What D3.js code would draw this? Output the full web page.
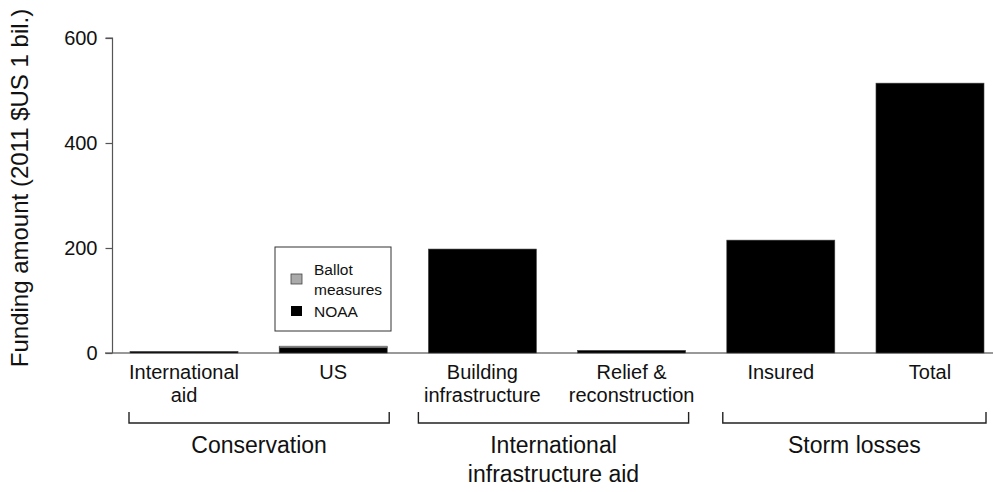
<!DOCTYPE html>
<html>
<head>
<meta charset="utf-8">
<script src="https://cdn.jsdelivr.net/npm/d3@7"></script>
<style>
  body { margin: 0; background: #fff; }
  svg { font-family: "Liberation Sans", Arial, Helvetica, sans-serif; }
</style>
</head>
<body>
<div id="chart-area"></div>
<script>
const WIDTH = 993
const HEIGHT = 492

// data
const categories = ["International aid", "US", "Building infrastructure", "Relief & reconstruction", "Insured", "Total"]
const categoryLines = [["International", "aid"], ["US"], ["Building", "infrastructure"], ["Relief &", "reconstruction"], ["Insured"], ["Total"]]
const noaa = [3, 10, 198, 5, 215, 514]
const ballot = [0, 3, 0, 0, 0, 0]
const groups = ["Conservation", "International infrastructure aid", "Storm losses"]
const groupLines = [["Conservation"], ["International", "infrastructure aid"], ["Storm losses"]]
const groupMembers = [["International aid", "US"], ["Building infrastructure", "Relief & reconstruction"], ["Insured", "Total"]]
const yTicks = [0, 200, 400, 600]
const legendItems = ["Ballot measures", "NOAA"]

const svg = d3.select("#chart-area").append("svg")
  .attr("width", WIDTH)
  .attr("height", HEIGHT)

const x = d3.scaleBand()
  .domain(categories)
  .range([130, 984])
  .paddingInner(0.276)
  .paddingOuter(0)

const y = d3.scaleLinear()
  .domain([0, 600])
  .range([353, 38])

const data = categories.map((c, i) => ({ cat: c, noaa: noaa[i], ballot: ballot[i] }))
const stacked = d3.stack().keys(["noaa", "ballot"])(data)
const colors = { noaa: "#000", ballot: "#aaa" }

// baseline
svg.append("line")
  .attr("x1", 105).attr("x2", WIDTH)
  .attr("y1", y(0)).attr("y2", y(0))
  .attr("stroke", "#777").attr("stroke-width", 1.5)

// bars
svg.selectAll("g.layer")
  .data(stacked)
  .enter().append("g")
  .attr("class", "layer")
  .attr("fill", d => colors[d.key])
  .selectAll("rect")
  .data(d => d.filter(p => p[1] - p[0] > 0))
  .enter().append("rect")
    .attr("x", d => x(d.data.cat))
    .attr("width", x.bandwidth())
    .attr("y", d => y(d[1]))
    .attr("height", d => y(d[0]) - y(d[1]))
    .attr("stroke", "#444")
    .attr("stroke-width", 0.6)

// y axis
const yAxis = svg.append("g")
  .attr("transform", "translate(112.5,0)")
  .call(d3.axisLeft(y).tickValues(yTicks).tickSize(7).tickPadding(8))
yAxis.select(".domain").attr("stroke", "#555").attr("stroke-width", 1.2).attr("d", `M-7,${y(600)}H0V${y(0)}`)
yAxis.selectAll(".tick line").attr("stroke", "#555").attr("stroke-width", 1.2)
yAxis.selectAll(".tick text").attr("font-size", "20px").attr("fill", "#111").attr("font-family", null)

// y label
svg.append("text")
  .attr("transform", "rotate(-90)")
  .attr("x", -188)
  .attr("y", 28)
  .attr("text-anchor", "middle")
  .attr("font-size", "24px")
  .attr("fill", "#111")
  .text("Funding amount (2011 $US 1 bil.)")

// category labels
categories.forEach((c, i) => {
  const t = svg.append("text")
    .attr("x", x(c) + x.bandwidth() / 2)
    .attr("y", 379)
    .attr("text-anchor", "middle")
    .attr("font-size", "20px")
    .attr("fill", "#111")
  categoryLines[i].forEach((line, j) => {
    t.append("tspan").attr("x", x(c) + x.bandwidth() / 2).attr("dy", j === 0 ? 0 : 23).text(line)
  })
})

// group brackets
const bracketPad = [[-1, 2], [-10, 3], [-4, 2]]
groups.forEach((g, i) => {
  const mem = groupMembers[i]
  const x0 = x(mem[0]) + bracketPad[i][0]
  const x1 = x(mem[mem.length - 1]) + x.bandwidth() + bracketPad[i][1]
  svg.append("path")
    .attr("d", `M${x0},412V423H${x1}V412`)
    .attr("fill", "none")
    .attr("stroke", "#222")
    .attr("stroke-width", 1.4)
  const t = svg.append("text")
    .attr("x", (x0 + x1) / 2)
    .attr("y", 453)
    .attr("text-anchor", "middle")
    .attr("font-size", "23px")
    .attr("fill", "#111")
  groupLines[i].forEach((line, j) => {
    t.append("tspan").attr("x", (x0 + x1) / 2).attr("dy", j === 0 ? 0 : 29).text(line)
  })
})

// legend
const legend = svg.append("g").attr("transform", "translate(275,247)")
legend.append("rect")
  .attr("width", 116).attr("height", 84)
  .attr("fill", "#fff").attr("stroke", "#333").attr("stroke-width", 1)
legend.append("rect")
  .attr("x", 16).attr("y", 27).attr("width", 11).attr("height", 10)
  .attr("fill", colors.ballot).attr("stroke", "#444").attr("stroke-width", 0.8)
legend.append("rect")
  .attr("x", 16).attr("y", 59).attr("width", 11).attr("height", 10)
  .attr("fill", colors.noaa)
const lt = legend.append("text").attr("font-size", "15.5px").attr("fill", "#111")
lt.append("tspan").attr("x", 39).attr("y", 28).text("Ballot")
lt.append("tspan").attr("x", 39).attr("y", 48).text("measures")
legend.append("text").attr("x", 39).attr("y", 70).attr("font-size", "15.5px").attr("fill", "#111").text(legendItems[1])
</script>
</body>
</html>
